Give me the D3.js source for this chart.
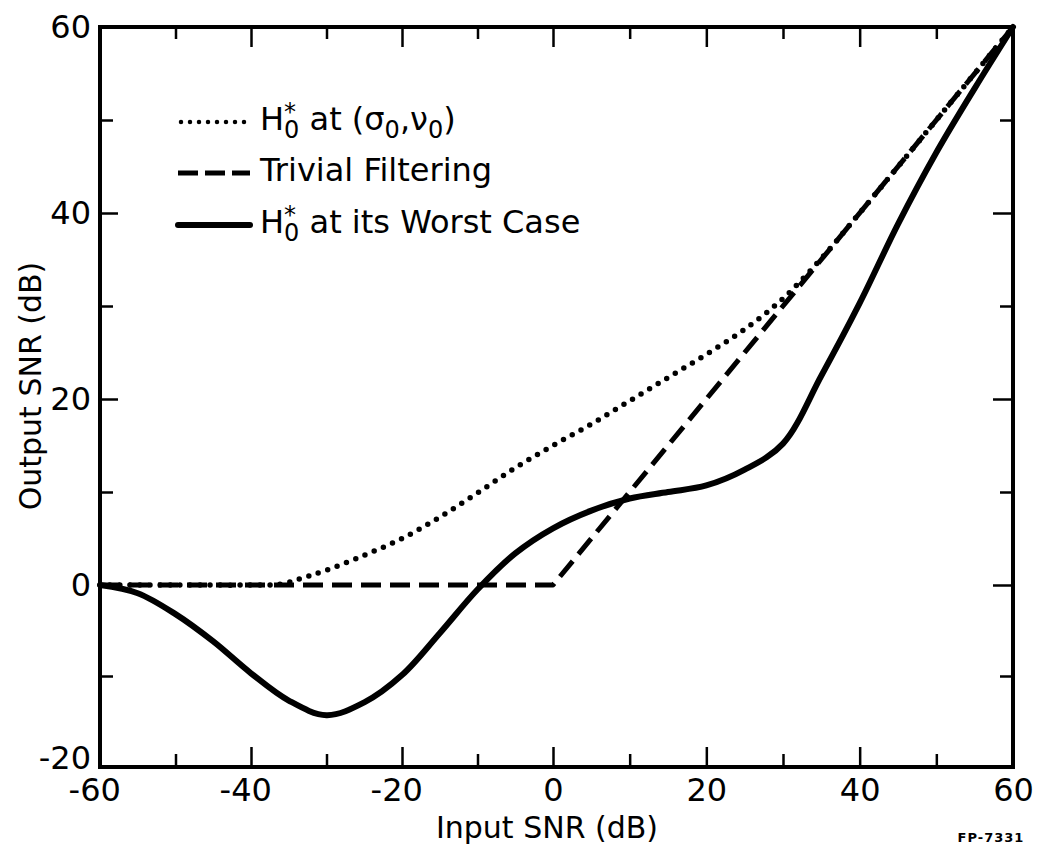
<!DOCTYPE html>
<html lang="en">
  <head>
    <meta charset="utf-8">
    <title>Output SNR vs Input SNR</title>
    <script src="https://cdn.jsdelivr.net/npm/d3@7"></script>
    <style>
      body { margin: 0; background: #fff; }
      text { font-family: "DejaVu Sans", sans-serif; white-space: pre; }
    </style>
  </head>
  <body>
    <script>
      // values (dB)
      var worstX = [-60,-55,-50,-45,-40,-35,-30,-25,-20,-15,-10,-5,0,5,10,15,20,25,30,35,40,45,50,55,60];
      var worstY = [0,-0.9,-3.2,-6.2,-9.7,-12.7,-14.3,-12.9,-9.9,-5.3,-0.5,3.4,6.1,8.0,9.3,10.0,10.7,12.4,15.2,22.5,30.3,38.8,46.5,53.4,60];

      var nominalX = [-60,-50,-40,-36,-33,-30,-25,-20,-15,-10,-5,0,5,10,15,20,25,30,35,40,50,60];
      var nominalY = [0,0,0,0.1,0.8,1.6,3.2,5.0,7.3,9.9,12.6,15.0,17.3,19.8,22.3,24.8,27.5,30.8,35.1,40,50,60];

      var trivialX = [-60,0,60];
      var trivialY = [0,0,60];

      var xMajor = [-60,-40,-20,0,20,40,60];
      var xMinor = [-50,-30,-10,10,30,50];
      var yMajor = [-20,0,20,40,60];
      var yMinor = [-10,10,30,50];

      var legendNames = ["H^*_0 at (σ_0,ν_0)", "Trivial Filtering", "H^*_0 at its Worst Case"];
      var legendStyles = ["dot", "dash", "solid"];

      var svg = d3.select("body").append("svg")
                  .attr("width", 1040)
                  .attr("height", 851);

      var x = d3.scaleLinear().domain([-60,0,60]).range([100,553,1013]);
      var y = d3.scaleLinear().domain([-20,0,60]).range([767,585,27]);

      // ticks point inward on all four sides
      function tidy(g) {
        g.select(".domain").remove();
        g.selectAll(".tick line").attr("stroke-width", 2.5);
        g.attr("font-size", 32).attr("font-family", "DejaVu Sans, sans-serif");
      }

      svg.append("g").attr("transform", "translate(0,767)")
         .call(d3.axisBottom(x).tickValues(xMajor).tickSize(-20).tickPadding(11).tickFormat(d => d))
         .call(tidy)
         .selectAll("text").attr("dx", d => d < 0 ? "-0.18em" : 0);
      svg.append("g").attr("transform", "translate(0,767)")
         .call(d3.axisBottom(x).tickValues(xMinor).tickSize(-13).tickFormat(""))
         .call(tidy);
      svg.append("g").attr("transform", "translate(0,27)")
         .call(d3.axisTop(x).tickValues(xMajor).tickSize(-20).tickFormat(""))
         .call(tidy);
      svg.append("g").attr("transform", "translate(0,27)")
         .call(d3.axisTop(x).tickValues(xMinor).tickSize(-12).tickFormat(""))
         .call(tidy);

      svg.append("g").attr("transform", "translate(100,0)")
         .call(d3.axisLeft(y).tickValues(yMajor).tickSize(-18).tickPadding(9).tickFormat(d => d))
         .call(tidy)
         .selectAll("text").filter(d => d == -20).attr("y", -9);
      svg.append("g").attr("transform", "translate(100,0)")
         .call(d3.axisLeft(y).tickValues(yMinor).tickSize(-13).tickFormat(""))
         .call(tidy);
      svg.append("g").attr("transform", "translate(1013,0)")
         .call(d3.axisRight(y).tickValues(yMajor).tickSize(-20).tickFormat(""))
         .call(tidy);
      svg.append("g").attr("transform", "translate(1013,0)")
         .call(d3.axisRight(y).tickValues(yMinor).tickSize(-13).tickFormat(""))
         .call(tidy);

      // frame
      svg.append("rect")
         .attr("x", x(-60)).attr("y", y(60))
         .attr("width", x(60) - x(-60)).attr("height", y(-20) - y(60))
         .attr("fill", "none").attr("stroke", "#000").attr("stroke-width", 4);

      var styles = {
        dot:   { width: 5.5, dash: "0 10", cap: "round", curve: d3.curveCatmullRom.alpha(0.5) },
        dash:  { width: 5, dash: "20 9", cap: "butt", curve: d3.curveLinear },
        solid: { width: 6, dash: null, cap: "round", curve: d3.curveCatmullRom.alpha(0.5) }
      };

      function curve(xs, ys, st) {
        var s = styles[st];
        var line = d3.line().x(d => x(d[0])).y(d => y(d[1])).curve(s.curve);
        svg.append("path")
           .attr("d", line(d3.zip(xs, ys)))
           .attr("fill", "none")
           .attr("stroke", "#000")
           .attr("stroke-width", s.width)
           .attr("stroke-dasharray", s.dash)
           .attr("stroke-linecap", s.cap)
           .attr("stroke-linejoin", "round");
      }

      curve(trivialX, trivialY, "dash");
      curve(nominalX, nominalY, "dot");
      curve(worstX, worstY, "solid");

      // legend
      var legY = [122, 173, 225];
      var legend = svg.append("g");

      // "^c" = superscript char, "_c" = subscript char (stacked under a superscript right before it)
      function richText(g, str, x0, base, size) {
        var small = Math.round(size * 0.75);
        var t = g.append("text").attr("x", x0).attr("y", base).attr("font-size", size);
        var shift = 0, lastSupW = 0, prevSup = false;
        for (var i = 0; i < str.length; i++) {
          var c = str[i];
          if (c == "^" || c == "_") {
            var ch = str[++i];
            var target = c == "^" ? -10 : 8;
            var ts = t.append("tspan").attr("font-size", small).attr("dy", target - shift).text(ch);
            if (c == "_" && prevSup) ts.attr("dx", -lastSupW);
            shift = target;
            if (c == "^") {
              var tmp = g.append("text").attr("font-size", small).text(ch);
              lastSupW = tmp.node().getComputedTextLength();
              tmp.remove();
            }
            prevSup = c == "^";
          } else {
            var run = "";
            while (i < str.length && str[i] != "^" && str[i] != "_") run += str[i++];
            i--;
            t.append("tspan").attr("dy", -shift).text(run);
            shift = 0;
            prevSup = false;
          }
        }
      }

      legendNames.forEach(function(name, i) {
        var st = legendStyles[i], s = styles[st];
        legend.append("line")
              .attr("x1", st == "dot" ? 181 : 178).attr("x2", 250)
              .attr("y1", legY[i]).attr("y2", legY[i])
              .attr("stroke", "#000")
              .attr("stroke-width", st == "dot" ? 4.5 : s.width)
              .attr("stroke-dasharray", st == "dot" ? "0 9" : (st == "dash" ? "20 7" : null))
              .attr("stroke-linecap", s.cap);
        richText(legend, name, 260, legY[i] + 8, 32);
      });

      // axis titles
      svg.append("text").attr("x", 547).attr("y", 838)
         .attr("text-anchor", "middle").attr("font-size", 30)
         .text("Input SNR (dB)");
      svg.append("text").attr("transform", "translate(41,386) rotate(-90)")
         .attr("text-anchor", "middle").attr("font-size", 30)
         .text("Output SNR (dB)");
      svg.append("text").attr("x", 991).attr("y", 842)
         .attr("text-anchor", "middle").attr("font-size", 13)
         .attr("font-weight", "bold").attr("letter-spacing", 1)
         .text("FP-7331");
    </script>
  </body>
</html>
